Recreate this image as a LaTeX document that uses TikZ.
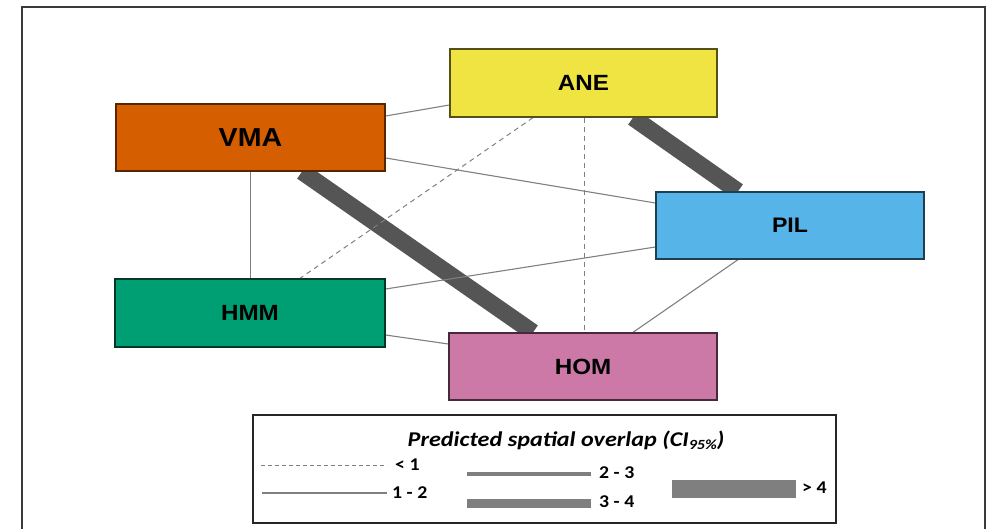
\documentclass[tikz,border=0pt]{standalone}
\usepackage{fontspec}
\setmainfont{Liberation Sans}
\newfontfamily\legendfont{Carlito}
\usetikzlibrary{backgrounds}

\definecolor{vmaC}{HTML}{D55E00}
\definecolor{aneC}{HTML}{F0E442}
\definecolor{pilC}{HTML}{56B4E9}
\definecolor{hmmC}{HTML}{009E73}
\definecolor{homC}{HTML}{CC79A7}
\definecolor{thinC}{HTML}{808080}
\definecolor{thickC}{HTML}{555555}
\definecolor{legC}{HTML}{7F7F7F}
\definecolor{frameC}{HTML}{3A3A3A}

% labels are set slightly wide
\newcommand{\widelabel}[1]{\scalebox{1.1}[1]{#1}}

\tikzset{
  sitebox/.style={rectangle, inner sep=0pt, minimum width=268pt, minimum height=67pt,
    line width=1.3pt, font=\fontsize{22}{22}\selectfont\bfseries},
  overlapA/.style={draw=thinC, line width=1pt, dash pattern=on 5pt off 4pt},
  overlapB/.style={draw=thinC, line width=1.1pt},
  overlapE/.style={draw=thickC, line width=17pt},
  legtext/.style={anchor=west, inner sep=0pt, font=\legendfont\fontsize{18}{18}\selectfont\bfseries},
}

\begin{document}
\begin{tikzpicture}[x=1pt, y=-1pt]
\useasboundingbox (0,0) rectangle (992,529);

% outer frame, open at the bottom
\draw[frameC, line width=2pt] (22,529) -- (22,7) -- (985,7) -- (985,529);

% study sites
\node[sitebox, fill=aneC, draw=aneC!35!black, minimum width=267pt, minimum height=68pt] (ane) at (583.5,83) {\widelabel{ANE}};
\node[sitebox, fill=vmaC, draw=vmaC!40!black, minimum width=269pt, font=\fontsize{26}{26}\selectfont\bfseries] (vma) at (250.5,137.5) {\widelabel{VMA}};
\node[sitebox, fill=pilC, draw=pilC!35!black, font=\fontsize{21}{21}\selectfont\bfseries] (pil) at (790,225.5) {\widelabel{PIL}};
\node[sitebox, fill=hmmC, draw=hmmC!35!black, minimum width=270pt, minimum height=68pt] (hmm) at (250,313) {\widelabel{HMM}};
\node[sitebox, fill=homC, draw=homC!35!black] (hom) at (583,366.5) {\widelabel{HOM}};

% overlap connectors, behind the boxes
\begin{pgfonlayer}{background}
  \draw[overlapB] ([yshift=21.5pt]vma.east) -- ([yshift=-22pt]ane.west);
  \draw[overlapB] ([yshift=-20.5pt]vma.east) -- ([yshift=22.5pt]pil.west);
  \draw[overlapB] (vma.south) -- (vma.south |- hmm.north);
  \draw[overlapE] ([xshift=51.5pt]vma.south) -- ([xshift=-50pt]hom.north);
  \draw[overlapE] ([xshift=49.5pt]ane.south) -- ([xshift=-52pt]pil.north);
  \draw[overlapA] ([xshift=0.5pt]ane.south) -- ([xshift=0.5pt]ane.south |- hom.north);
  \draw[overlapA] ([xshift=-50.5pt]ane.south) -- ([xshift=50pt]hmm.north);
  \draw[overlapB] ([yshift=-21.5pt]pil.west) -- ([yshift=24pt]hmm.east);
  \draw[overlapB] ([xshift=-52pt]pil.south) -- ([xshift=50pt]hom.north);
  \draw[overlapB] ([yshift=-22pt]hmm.east) -- ([yshift=22.5pt]hom.west);
\end{pgfonlayer}

% legend
\draw[black!85, line width=1.4pt] (253,415) rectangle (836,523);
\node[font=\legendfont\fontsize{21}{21}\selectfont\bfseries\itshape, inner sep=0pt] (legtitle) at (566,440)
  {\scalebox{1.15}[1]{Predicted spatial overlap (CI\raisebox{-0.3ex}{\fontsize{14}{14}\selectfont 95\%})}};

\draw[legC, line width=1pt, dash pattern=on 4pt off 3pt] (261,465) -- (387,465);
\node[legtext] (legA) at (395,465) {\widelabel{< 1}};
\draw[legC, line width=1.1pt] (262,493) -- (387,493);
\node[legtext] (legB) at (392,493) {\widelabel{1 - 2}};
\draw[legC, line width=4.5pt] (467,474) -- (591,474);
\node[legtext] (legC2) at (599,473) {\widelabel{2 - 3}};
\draw[legC, line width=9pt] (467,503) -- (591,503);
\node[legtext] (legD) at (599,502) {\widelabel{3 - 4}};
\draw[legC, line width=18pt] (672,489) -- (796,489);
\node[legtext] (legE) at (802,488) {\widelabel{> 4}};
\end{tikzpicture}
\end{document}
